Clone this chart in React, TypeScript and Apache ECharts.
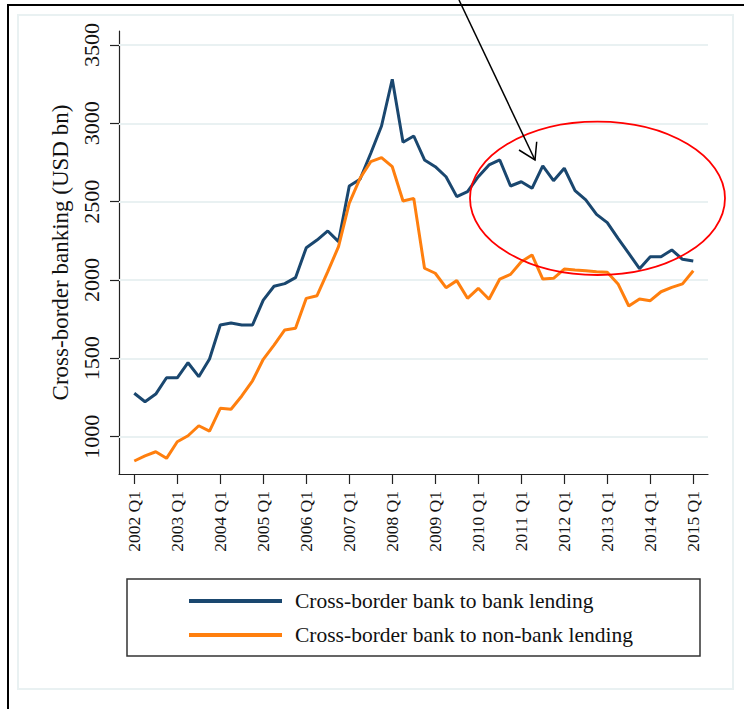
import React, { useEffect, useRef } from "react";
import * as echarts from "echarts";

const years = [2002, 2003, 2004, 2005, 2006, 2007, 2008, 2009, 2010, 2011, 2012, 2013, 2014, 2015];
const quarterNames = ["Q1", "Q2", "Q3", "Q4"];
const quarters: string[] = years
  .flatMap((y) => quarterNames.map((q) => `${y} ${q}`))
  .slice(0, 53);

const tickLabels = [
  "2002 Q1", "2003 Q1", "2004 Q1", "2005 Q1", "2006 Q1", "2007 Q1", "2008 Q1",
  "2009 Q1", "2010 Q1", "2011 Q1", "2012 Q1", "2013 Q1", "2014 Q1", "2015 Q1",
];

const yTicks = [1000, 1500, 2000, 2500, 3000, 3500];

const bankToBank = [
  1277, 1223, 1272, 1376, 1376, 1472, 1383, 1496, 1713, 1726,
  1713, 1713, 1872, 1960, 1977, 2015, 2206, 2255, 2313, 2245,
  2600, 2643, 2809, 2983, 3281, 2879, 2919, 2766, 2723, 2659,
  2532, 2564, 2659, 2734, 2766, 2600, 2627, 2585, 2728, 2634,
  2713, 2570, 2511, 2419, 2366, 2266, 2170, 2072, 2149, 2149,
  2192, 2132, 2121,
];

const bankToNonBank = [
  845, 877, 904, 862, 968, 1006, 1070, 1036, 1181, 1175,
  1260, 1357, 1494, 1585, 1681, 1692, 1883, 1900, 2053, 2213,
  2490, 2649, 2755, 2781, 2723, 2504, 2521, 2075, 2043, 1951,
  1996, 1883, 1947, 1877, 2006, 2036, 2117, 2160, 2006, 2011,
  2070, 2064, 2059, 2053, 2049, 1975, 1834, 1879, 1868, 1925,
  1953, 1975, 2059,
];

const seriesNames = [
  "Cross-border bank to bank lending",
  "Cross-border bank to non-bank lending",
];

const FONT = "'Liberation Serif', 'Times New Roman', serif";
const BLUE = "#1a476f";
const ORANGE = "#ff7f0e";
const GRID_COLOR = "#e9f1f2";

export default function App() {
  const ref = useRef<HTMLDivElement>(null);

  useEffect(() => {
    if (!ref.current) return;
    const chart = echarts.init(ref.current, undefined, { renderer: "svg" });

    const tickIdx = tickLabels.map((t) => quarters.indexOf(t));

    const option: any = {
      animation: false,
      backgroundColor: "#ffffff",
      grid: { left: 119, right: 36, top: 31, bottom: 235, containLabel: false },
      xAxis: {
        type: "value",
        min: -1.42,
        max: 53.37,
        axisLine: { show: true, onZero: false, lineStyle: { color: "#222", width: 1.2 } },
        axisTick: { show: true, customValues: tickIdx, length: 10, lineStyle: { color: "#222", width: 1.2 } },
        axisLabel: {
          show: true,
          customValues: tickIdx,
          rotate: 90,
          margin: 17,
          fontFamily: FONT,
          fontSize: 17.5,
          color: "#111",
          formatter: (v: number) => quarters[Math.round(v)] ?? "",
        },
        splitLine: { show: false },
      },
      yAxis: {
        type: "value",
        min: 762,
        max: 3589,
        name: "Cross-border banking (USD bn)",
        nameLocation: "middle",
        nameRotate: 90,
        nameGap: 37,
        nameTextStyle: { fontFamily: FONT, fontSize: 23, color: "#111" },
        axisLine: { show: true, onZero: false, lineStyle: { color: "#222", width: 1.2 } },
        axisTick: { show: true, customValues: yTicks, length: 9, lineStyle: { color: "#222", width: 1.2 } },
        axisLabel: {
          show: true,
          customValues: yTicks,
          rotate: 90,
          margin: 17,
          fontFamily: FONT,
          fontSize: 22,
          color: "#111",
          formatter: (v: number) => String(v),
        },
        splitLine: { show: false },
      },
      legend: {
        orient: "vertical",
        left: 189,
        top: 590,
        padding: 0,
        itemGap: 12,
        itemWidth: 93,
        itemHeight: 4,
        icon: "rect",
        selectedMode: false,
        textStyle: { fontFamily: FONT, fontSize: 21.5, color: "#111", padding: [0, 0, 0, 8] },
        data: seriesNames,
      },
      series: [
        {
          name: seriesNames[0],
          type: "line",
          showSymbol: false,
          symbol: "none",
          z: 3,
          color: BLUE,
          lineStyle: { color: BLUE, width: 3 },
          data: bankToBank.map((v, i) => [i, v]),
          markLine: {
            silent: true,
            z: 1,
            symbol: "none",
            label: { show: false },
            lineStyle: { color: GRID_COLOR, width: 2, type: "solid" },
            data: yTicks.map((v) => ({ yAxis: v })),
          },
        },
        {
          name: seriesNames[1],
          type: "line",
          showSymbol: false,
          symbol: "none",
          z: 3,
          color: ORANGE,
          lineStyle: { color: ORANGE, width: 3 },
          data: bankToNonBank.map((v, i) => [i, v]),
        },
      ],
      graphic: [
        {
          type: "rect",
          z: -10,
          silent: true,
          shape: { x: 18, y: 15, width: 715, height: 674 },
          style: { fill: "#ffffff", stroke: GRID_COLOR, lineWidth: 2 },
        },
        {
          type: "rect",
          z: -9,
          silent: true,
          shape: { x: 8, y: 5, width: 900, height: 900 },
          style: { fill: "none", stroke: "#000", lineWidth: 2 },
        },
        {
          type: "rect",
          z: -5,
          silent: true,
          shape: { x: 127, y: 579, width: 573, height: 77 },
          style: { fill: "#ffffff", stroke: "#333", lineWidth: 1.5 },
        },
        {
          type: "ellipse",
          z: 20,
          silent: true,
          shape: { cx: 597.5, cy: 198.3, rx: 127.5, ry: 76.7 },
          style: { fill: "none", stroke: "#ff0000", lineWidth: 1.8 },
        },
        {
          type: "line",
          z: 20,
          silent: true,
          shape: { x1: 459, y1: 0, x2: 535, y2: 160 },
          style: { stroke: "#000", lineWidth: 1.5 },
        },
        {
          type: "polyline",
          z: 20,
          silent: true,
          shape: { points: [[519, 150], [535, 160], [536.7, 141.7]] },
          style: { fill: "none", stroke: "#000", lineWidth: 1.5 },
        },
      ],
    };

    chart.setOption(option);
    return () => chart.dispose();
  }, []);

  return (
    <div
      ref={ref}
      style={{ position: "fixed", left: 0, top: 0, width: 744, height: 709 }}
    />
  );
}
